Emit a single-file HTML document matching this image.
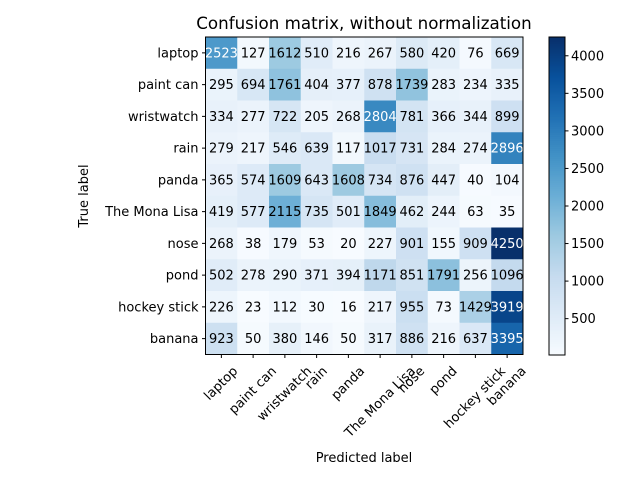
<!DOCTYPE html>
<html><head><meta charset="utf-8"><style>
body{margin:0;background:#fff}
svg text{font-family:"DejaVu Sans","Liberation Sans",sans-serif}
</style></head><body>
<svg id="c" width="640" height="480" xmlns="http://www.w3.org/2000/svg">
<rect width="640" height="480" fill="#fff"/>
<text x="364" y="29" font-size="16.7" text-anchor="middle" fill="#000">Confusion matrix, without normalization</text>
<text x="364" y="462" font-size="13" text-anchor="middle">Predicted label</text>
<text transform="translate(88,196) rotate(-90)" font-size="13" text-anchor="middle">True label</text>
<g id="cells"></g><g id="labels"></g><g id="ticks"></g><g id="cbar"></g>
</svg>
<script>
const classes=["laptop","paint can","wristwatch","rain","panda","The Mona Lisa","nose","pond","hockey stick","banana"];
const row0=[2523,127,1612,510,216,267,580,420,76,669];
const row1=[295,694,1761,404,377,878,1739,283,234,335];
const row2=[334,277,722,205,268,2804,781,366,344,899];
const row3=[279,217,546,639,117,1017,731,284,274,2896];
const row4=[365,574,1609,643,1608,734,876,447,40,104];
const row5=[419,577,2115,735,501,1849,462,244,63,35];
const row6=[268,38,179,53,20,227,901,155,909,4250];
const row7=[502,278,290,371,394,1171,851,1791,256,1096];
const row8=[226,23,112,30,16,217,955,73,1429,3919];
const row9=[923,50,380,146,50,317,886,216,637,3395];
const matrix=[row0,row1,row2,row3,row4,row5,row6,row7,row8,row9];
const cbTicks=[500,1000,1500,2000,2500,3000,3500,4000];
const NS="http://www.w3.org/2000/svg";
const X0=205.5,Y0=37,CW=31.75;
const all=matrix.flat(),vmin=Math.min(...all),vmax=Math.max(...all);
const stops=["#f7fbff","#deebf7","#c6dbef","#9ecae1","#6baed6","#4292c6","#2171b5","#08519c","#08306b"].map(h=>[1,3,5].map(i=>parseInt(h.substr(i,2),16)));
function cmap(t){t=Math.max(0,Math.min(1,t));const s=t*8,i=Math.min(7,Math.floor(s)),f=s-i;const a=stops[i],b=stops[i+1];return "rgb("+a.map((v,k)=>Math.round(v+(b[k]-v)*f)).join(",")+")";}
function xs(j){return X0+j*CW;}
function ys(i){return Y0+i*CW;}
function el(t,a,p){const e=document.createElementNS(NS,t);for(const k in a)e.setAttribute(k,a[k]);p.appendChild(e);return e;}
const cells=document.getElementById("cells"),labels=document.getElementById("labels"),ticks=document.getElementById("ticks"),cbar=document.getElementById("cbar");
matrix.forEach((r,i)=>r.forEach((v,j)=>{
 const rc=el("rect",{x:xs(j),y:ys(i),width:CW+0.5,height:CW+0.5,fill:cmap((v-vmin)/(vmax-vmin))},cells);
 
 
 const t=el("text",{x:xs(j)+CW/2,y:ys(i)+CW/2+4.5,"font-size":13,"text-anchor":"middle",fill:v>vmax/2?"#fff":"#000"},labels);
 t.textContent=v;
 
 
}));
el("rect",{x:X0,y:Y0,width:CW*10,height:CW*10,fill:"none",stroke:"#000","stroke-width":1},ticks);
classes.forEach((c,k)=>{
 const cx=xs(k)+CW/2,cy=ys(k)+CW/2;
 el("line",{x1:cx,y1:Y0+CW*10,x2:cx,y2:Y0+CW*10+3.5,stroke:"#000"},ticks);
 el("line",{x1:X0,y1:cy,x2:X0-3.5,y2:cy,stroke:"#000"},ticks);
 const ty=el("text",{x:X0-7,y:cy+4.5,"font-size":13,"text-anchor":"end"},ticks);ty.textContent=c;
 
 
 const tx=el("text",{transform:`translate(${cx},400) rotate(-45)`,"font-size":13,"text-anchor":"middle"},ticks);tx.textContent=c;
 
 
 const bb=tx.getBoundingClientRect(),sb=document.getElementById("c").getBoundingClientRect();
 const dx=cx-((bb.left+bb.right)/2-sb.left),dy=364-(bb.top-sb.top);
 tx.setAttribute("transform",`translate(${cx+dx},${400+dy}) rotate(-45)`);
});
const CX=549,CWB=16,CT=37,CB=355;
function cy(v){return CB-(v-vmin)/(vmax-vmin)*(CB-CT);}
for(let p=0;p<160;p++){const y0=CB-(p+1)*(CB-CT)/160;el("rect",{x:CX,y:y0,width:CWB,height:(CB-CT)/160+0.6,fill:cmap((p+0.5)/160)},cbar);}
el("rect",{x:CX,y:CT,width:CWB,height:CB-CT,fill:"none",stroke:"#000"},cbar);
cbTicks.forEach(v=>{
 el("line",{x1:CX+CWB,y1:cy(v),x2:CX+CWB+3.5,y2:cy(v),stroke:"#000"},cbar);
 const t=el("text",{x:CX+CWB+6,y:cy(v)+4.5,"font-size":13},cbar);t.textContent=v;
 
 
});
</script>
</body></html>
